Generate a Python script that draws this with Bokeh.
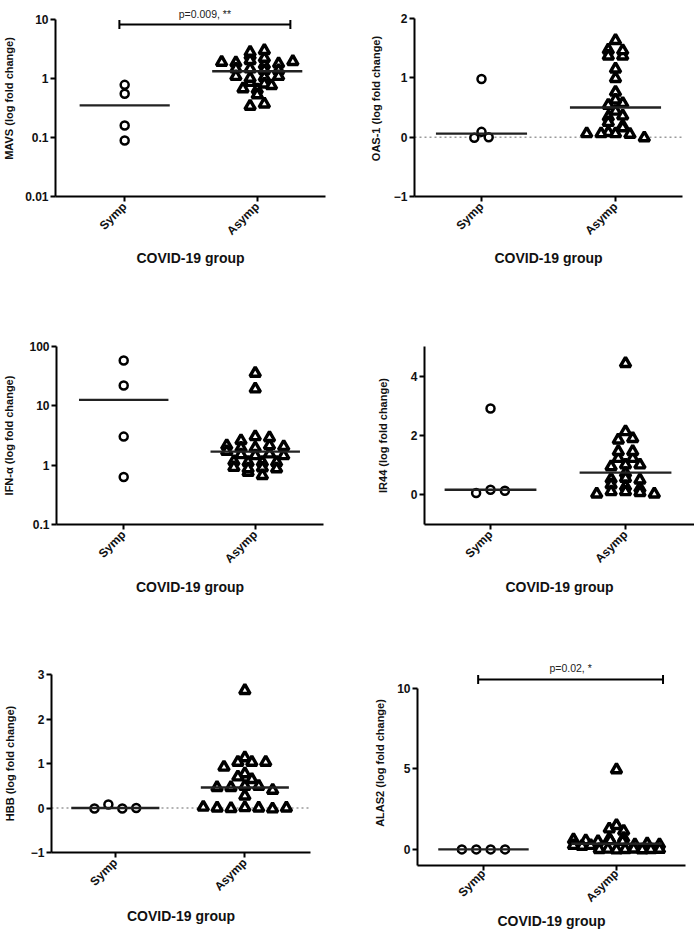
import math
from bokeh.plotting import figure
from bokeh.layouts import column, row
from bokeh.models import FixedTicker, Span, Label, NumeralTickFormatter
from bokeh.embed import file_html
from bokeh.resources import INLINE

# ---------------- data ----------------
groups = ["Symp", "Asymp"]
x_title = "COVID-19 group"

mavs_symp = [0.78, 0.55, 0.16, 0.089]
mavs_asymp = [1.89, 1.85, 1.46, 1.09, 0.86, 0.67, 2.45, 2.02, 1.46, 1.01, 0.34, 2.79, 1.71,
              1.37, 1.05, 0.81, 0.65, 0.53, 0.37, 2.21, 1.78, 1.37, 1.09, 0.76, 2.98, 1.94]
mavs_median = [0.35, 1.33]
mavs_ticks = [0.01, 0.1, 1, 10]
mavs_sig = "p=0.009, **"

oas_symp = [-0.01, 0.98, 0.09, 0.0]
oas_asymp = [1.63, 1.47, 1.37, 1.37, 1.46, 1.15, 0.99, 0.76, 0.54, 0.57, 0.63, 0.44, 0.34,
             0.36, 0.25, 0.19, 0.06, 0.08, 0.06, 0.06, 0.16, 0.05, -0.01]
oas_median = [0.06, 0.50]
oas_ticks = [-1, 0, 1, 2]

ifn_symp = [58, 22, 3.03, 0.63]
ifn_asymp = [35.5, 19.3, 2.14, 1.71, 0.76, 2.6, 1.96, 1.51, 1.16, 0.92, 3.03, 1.96, 1.45,
             1.12, 0.87, 2.9, 2.14, 1.55, 1.12, 0.9, 2.06, 1.45, 1.12, 0.87, 0.67]
ifn_median = [12.6, 1.69]
ifn_ticks = [0.1, 1, 10, 100]

ir44_symp = [0.06, 2.91, 0.17, 0.14]
ir44_asymp = [4.43, 1.85, 1.90, 2.13, 1.23, 0.95, 1.46, 1.23, 1.01, 1.46, 1.01, 0.73, 0.53,
              0.34, 0.03, 0.56, 0.50, 0.28, 0.11, 0.11, 0.22, 0.08, 0.03]
ir44_median = [0.17, 0.75]
ir44_ticks = [0, 2, 4]

hbb_symp = [-0.01, 0.08, -0.01, 0.0]
hbb_asymp = [2.64, 1.13, 0.92, 1.03, 1.03, 1.03, 0.77, 0.70, 0.64, 0.46, 0.46, 0.49, 0.49,
             0.40, 0.27, 0.02, 0.0, -0.01, 0.01, 0.0, -0.02, 0.0]
hbb_median = [0.0, 0.46]
hbb_ticks = [-1, 0, 1, 2, 3]

alas_symp = [0, 0, 0, 0]
alas_asymp = [4.95, 1.28, 1.14, 1.49, 0.6, 0.55, 0.5, 0.65, 0.55, 0.7, 0.5, 0.25, 0.3, 0.2,
              0.35, 0.25, 0.3, 0.0, 0.02, -0.03, 0.0, 0.03, -0.02, 0.0, 0.01]
alas_median = [0.0, 0.35]
alas_ticks = [0, 5, 10]
alas_sig = "p=0.02, *"

FONT = "Liberation Sans"


def swarm(vals, center, ypx, pxu, s=14.4, binh=5.0, maxhalf=43.0):
    """Row-binned scatter (GraphPad-like): points of nearly equal height spread sideways."""
    px = [ypx(v) for v in vals]
    order = sorted(range(len(vals)), key=lambda i: px[i])
    grp = []
    for i in order:
        if grp and px[i] - px[grp[-1][0]] <= binh:
            grp[-1].append(i)
        else:
            grp.append([i])
    xs = [center] * len(vals)
    for g in grp:
        g = sorted(g)
        n = len(g)
        step = s
        if n > 1 and (n - 1) * s / 2 > maxhalf:
            step = 2 * maxhalf / (n - 1)
        for k, i in enumerate(g):
            xs[i] = center + (k - (n - 1) / 2) * step / pxu
    return xs


def panel(cfg, symp, asymp, med, ylabel, yticks, sig=None):
    W, H = cfg["size"]
    bl, br, bt, bb = cfg["borders"]
    fw, fh = W - bl - br, H - bt - bb
    x0, x1 = cfg["xr"]
    y0, y1 = cfg["yr"]
    log = cfg["log"]
    p = figure(width=W, height=H, x_range=(x0, x1), y_range=(y0, y1),
               y_axis_type="log" if log else "linear",
               output_backend="svg", toolbar_location=None,
               min_border_left=bl, min_border_right=br,
               min_border_top=bt, min_border_bottom=bb)
    p.outline_line_color = None
    p.grid.visible = False
    p.background_fill_color = "white"
    p.border_fill_color = "white"

    if log:
        ypx = lambda v: (math.log10(v) - math.log10(y0)) / (math.log10(y1) - math.log10(y0)) * fh
    else:
        ypx = lambda v: (v - y0) / (y1 - y0) * fh
    pxu = fw / (x1 - x0)

    if cfg.get("zero"):
        p.add_layout(Span(location=0, dimension="width", line_color="#9a9a9a",
                          line_dash="2 3", line_width=1.6, level="underlay"))

    xs_s = swarm(symp, 1, ypx, pxu)
    xs_a = swarm(asymp, 2, ypx, pxu)
    p.scatter(xs_s, symp, marker="circle", size=8, fill_color="white",
              line_color="black", line_width=2.5)
    p.scatter(xs_a, asymp, marker="triangle", size=10.5, fill_color="white",
              line_color="black", line_width=3.4)

    hw = 0.34
    p.segment(x0=[1 - hw, 2 - hw], y0=med, x1=[1 + hw, 2 + hw], y1=med,
              line_color="#222222", line_width=2.4)

    if sig is not None:
        text, sx0, sx1, sy = sig
        p.segment(x0=[sx0], y0=[sy], x1=[sx1], y1=[sy], line_color="black", line_width=2)
        p.scatter([sx0, sx1], [sy, sy], marker="dash", size=9, angle=math.pi / 2,
                  line_color="black", line_width=2)
        p.add_layout(Label(x=(sx0 + sx1) / 2, y=sy, y_offset=5, text=text,
                           text_align="center", text_baseline="bottom",
                           text_font=FONT, text_font_size="10.5px", text_color="#222222"))

    # x axis
    xa = p.xaxis[0]
    xa.ticker = FixedTicker(ticks=[1, 2])
    xa.major_label_overrides = {1: groups[0], 2: groups[1]}
    xa.major_label_orientation = math.pi / 4
    xa.axis_label = x_title
    xa.axis_label_standoff = cfg.get("xstand", 4)
    xa.major_label_standoff = cfg.get("xlstand", 3)

    # y axis
    ya = p.yaxis[0]
    ya.ticker = FixedTicker(ticks=yticks)
    if log:
        ya.formatter = NumeralTickFormatter(format="0.[00]")
    ya.bounds = cfg["ybounds"]
    ya.axis_label = ylabel
    ya.axis_label_standoff = cfg.get("ystand", 8)
    ya.major_label_standoff = 2

    for ax in (xa, ya):
        ax.axis_line_width = 2
        ax.axis_line_color = "black"
        ax.major_tick_line_width = 2
        ax.major_tick_line_color = "black"
        ax.major_tick_out = 5
        ax.major_tick_in = 0
        ax.minor_tick_line_color = None
        ax.major_label_text_font = FONT
        ax.major_label_text_font_style = "bold"
        ax.major_label_text_font_size = "12px"
        ax.major_label_text_color = "#111111"
        ax.axis_label_text_font = FONT
        ax.axis_label_text_font_style = "bold"
        ax.axis_label_text_color = "#111111"
    xa.axis_label_text_font_size = "14px"
    ya.axis_label_text_font_size = "11px"
    return p


cfg1 = dict(size=(347, 320), borders=(52, 22, 0, 124), xr=(0.478, 2.515), yr=(0.01, 21.0),
            log=True, ybounds=(0.01, 10), ystand=7)
cfg2 = dict(size=(347, 320), borders=(67, 12, 0, 124), xr=(0.5, 2.5), yr=(-1, 2.305),
            log=False, ybounds=(-1, 2), zero=True, ystand=9)
cfg3 = dict(size=(347, 320), borders=(53, 24, 26, 116), xr=(0.489, 2.519), yr=(0.1, 100),
            log=True, ybounds=(0.1, 100), ystand=11, xstand=5)
cfg4 = dict(size=(347, 320), borders=(77, 0, 26, 116), xr=(0.511, 2.511), yr=(-1, 5),
            log=False, ybounds=(-1, 5), ystand=19, xstand=5)
cfg5 = dict(size=(347, 304), borders=(42, 37, 34, 92), xr=(0.507, 2.507), yr=(-1, 3),
            log=False, ybounds=(-1, 3), zero=True, ystand=12, xstand=6)
cfg6 = dict(size=(347, 304), borders=(70, 9, 20, 79), xr=(0.504, 2.519), yr=(-1, 11.74),
            log=False, ybounds=(-1, 10), xstand=0, xlstand=1, ystand=8)

p1 = panel(cfg1, mavs_symp, mavs_asymp, mavs_median, "MAVS (log fold change)", mavs_ticks,
           sig=(mavs_sig, 0.96, 2.25, 8.2))
p2 = panel(cfg2, oas_symp, oas_asymp, oas_median, "OAS-1 (log fold change)", oas_ticks)
p3 = panel(cfg3, ifn_symp, ifn_asymp, ifn_median, "IFN-α (log fold change)", ifn_ticks)
p4 = panel(cfg4, ir44_symp, ir44_asymp, ir44_median, "IR44 (log fold change)", ir44_ticks)
p5 = panel(cfg5, hbb_symp, hbb_asymp, hbb_median, "HBB (log fold change)", hbb_ticks)
p6 = panel(cfg6, alas_symp, alas_asymp, alas_median, "ALAS2 (log fold change)", alas_ticks,
           sig=(alas_sig, 0.96, 2.35, 10.56))

layout = column(row(column(p1), column(p2)),
                row(column(p3), column(p4)),
                row(column(p5), column(p6)))
open("out.html", "w").write(file_html(layout, INLINE))
